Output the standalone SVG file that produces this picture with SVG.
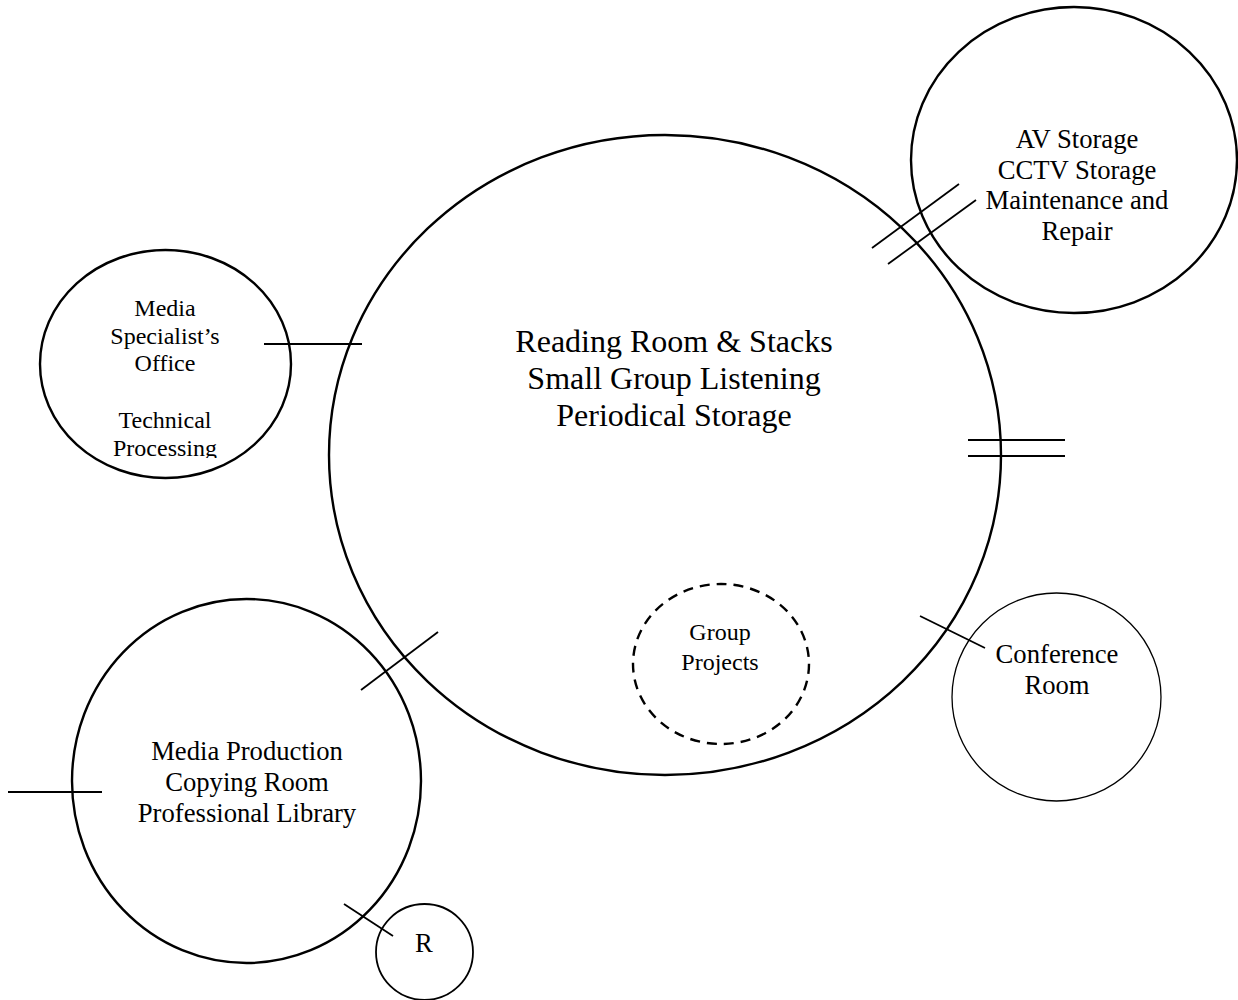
<svg xmlns="http://www.w3.org/2000/svg" width="1238" height="1000" viewBox="0 0 1238 1000">
  <style>
    .room { fill: none; stroke: #000; stroke-width: 2.4; }
    .thin { fill: none; stroke: #000; stroke-width: 1.3; }
    .dash { fill: none; stroke: #000; stroke-width: 2.4; stroke-dasharray: 10 7; }
    .link { stroke: #000; stroke-width: 1.8; fill: none; }
    text { font-family: "Liberation Serif", "Times New Roman", serif; fill: #000; text-anchor: middle; }
    .t32 { font-size: 32px; }
    .t27 { font-size: 26.67px; }
    .t24 { font-size: 24px; }
  </style>
  <defs>
    <clipPath id="officeClip">
      <rect x="60" y="290" width="210" height="168"/>
    </clipPath>
  </defs>
  <rect width="1238" height="1000" fill="#fff"/>

  <!-- adjacency connectors -->
  <g id="connectors">
    <line class="link" x1="264" y1="344" x2="362" y2="344"/>
    <line class="link" x1="872" y1="248" x2="959" y2="184"/>
    <line class="link" x1="888" y1="264" x2="976" y2="200"/>
    <line class="link" x1="968" y1="440" x2="1065" y2="440"/>
    <line class="link" x1="968" y1="456" x2="1065" y2="456"/>
    <line class="link" x1="920" y1="616" x2="985" y2="648"/>
    <line class="link" x1="361" y1="690" x2="438" y2="632"/>
    <line class="link" x1="8" y1="792" x2="102" y2="792"/>
    <line class="link" x1="344" y1="904" x2="393" y2="936"/>
  </g>

  <g id="reading-room">
    <ellipse class="room" cx="665" cy="455" rx="336" ry="320"/>
    <text class="t32" x="674" y="352">Reading Room &amp; Stacks</text>
    <text class="t32" x="674" y="389">Small Group Listening</text>
    <text class="t32" x="674" y="426">Periodical Storage</text>
  </g>

  <g id="group-projects">
    <ellipse class="dash" cx="721" cy="664" rx="88" ry="80"/>
    <text class="t24" x="720" y="640">Group</text>
    <text class="t24" x="720" y="670">Projects</text>
  </g>

  <g id="av-storage">
    <ellipse class="room" cx="1074" cy="160" rx="163" ry="153"/>
    <text class="t27" x="1077" y="148">AV Storage</text>
    <text class="t27" x="1077" y="178.5">CCTV Storage</text>
    <text class="t27" x="1077" y="209">Maintenance and</text>
    <text class="t27" x="1077" y="239.5">Repair</text>
  </g>

  <g id="media-office">
    <ellipse class="room" cx="165.5" cy="364" rx="125.5" ry="114"/>
    <g clip-path="url(#officeClip)">
      <text class="t24" x="165" y="316">Media</text>
      <text class="t24" x="165" y="343.5">Specialist’s</text>
      <text class="t24" x="165" y="371">Office</text>
      <text class="t24" x="165" y="428">Technical</text>
      <text class="t24" x="165" y="455.5">Processing</text>
    </g>
  </g>

  <g id="media-production">
    <ellipse class="room" cx="246.5" cy="781" rx="174.5" ry="182"/>
    <text class="t27" x="247" y="760">Media Production</text>
    <text class="t27" x="247" y="791">Copying Room</text>
    <text class="t27" x="247" y="822">Professional Library</text>
  </g>

  <g id="conference-room">
    <ellipse class="thin" cx="1056.5" cy="697" rx="104.5" ry="104"/>
    <text class="t27" x="1057" y="663">Conference</text>
    <text class="t27" x="1057" y="694">Room</text>
  </g>

  <g id="restroom">
    <ellipse class="room" cx="424.5" cy="952" rx="48.5" ry="48" style="stroke-width:1.8"/>
    <text class="t27" x="424" y="952">R</text>
  </g>
</svg>
